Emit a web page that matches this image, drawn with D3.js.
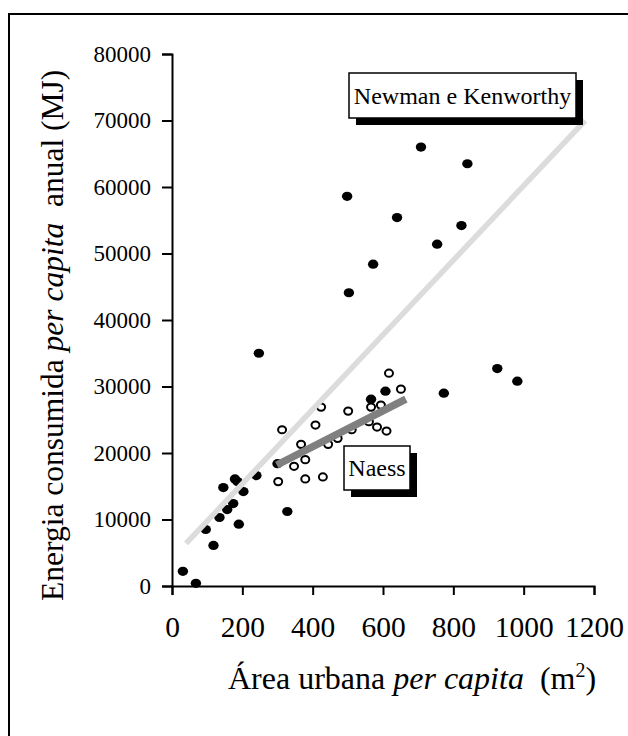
<!DOCTYPE html>
<html>
<head>
<meta charset="utf-8">
<script src="https://cdn.jsdelivr.net/npm/d3@7/dist/d3.min.js"></script>
<style>
  html, body { margin: 0; padding: 0; background: #fff; }
  svg { display: block; }
  text { font-family: "Liberation Serif", "Times New Roman", serif; fill: #000; }
</style>
</head>
<body>
<svg id="chart" width="628" height="736"></svg>
<script>
// Newman & Kenworthy cities: urban area per capita (m²), annual energy per capita (MJ)
const nkArea   = [708, 840, 498, 640, 823, 754, 572, 503, 247, 925, 982, 773, 607, 566,
                  240, 179, 186, 146, 203, 174, 157, 135, 190, 96, 328, 118, 31, 68, 300];
const nkEnergy = [66000, 63500, 58600, 55400, 54200, 51400, 48400, 44100, 35000, 32700, 30800, 29000, 29300, 28100,
                  16600, 16100, 15700, 14800, 14200, 12400, 11500, 10300, 9300, 8500, 11200, 6100, 2200, 400, 18400];

// Naess cities
const naArea   = [617, 651, 594, 566, 501, 424, 408, 313, 560, 583, 610, 511, 471, 444, 367, 379, 347, 302, 379, 429];
const naEnergy = [32000, 29600, 27200, 26900, 26300, 26900, 24200, 23500, 24700, 23900, 23300, 23500, 22200, 21300,
                  21300, 19000, 18000, 15700, 16100, 16400];

// Trend lines (end points)
const nkTrendArea = [40, 1175];
const nkTrendEnergy = [6400, 70000];
const naTrendArea = [298, 665];
const naTrendEnergy = [18200, 28100];

const xTicks = [0, 200, 400, 600, 800, 1000, 1200];
const yTicks = [0, 10000, 20000, 30000, 40000, 50000, 60000, 70000, 80000];

const svg = d3.select("#chart");

// outer frame
svg.append("rect")
  .attr("x", 9).attr("y", 14).attr("width", 640).attr("height", 740)
  .attr("fill", "none").attr("stroke", "#000").attr("stroke-width", 2);

const x = d3.scaleLinear().domain([0, 1200]).range([172, 594]);
const y = d3.scaleLinear().domain([0, 80000]).range([586, 54]);

// points
const nk = nkArea.map((a, i) => ({ a, e: nkEnergy[i] }));
const na = naArea.map((a, i) => ({ a, e: naEnergy[i] }));

svg.append("g").selectAll("ellipse").data(na).join("ellipse")
  .attr("cx", d => x(d.a)).attr("cy", d => y(d.e))
  .attr("rx", 4).attr("ry", 3.6)
  .attr("fill", "#fff").attr("stroke", "#000").attr("stroke-width", 2);

svg.append("g").selectAll("ellipse").data(nk).join("ellipse")
  .attr("cx", d => x(d.a)).attr("cy", d => y(d.e))
  .attr("rx", 5.2).attr("ry", 4.6)
  .attr("fill", "#000");

// trend lines
const line = d3.line().x(d => x(d[0])).y(d => y(d[1]));
svg.append("path")
  .datum(nkTrendArea.map((a, i) => [a, nkTrendEnergy[i]]))
  .attr("d", line).attr("fill", "none")
  .attr("stroke", "#dcdcdc").attr("stroke-width", 5.5);
svg.append("path")
  .datum(naTrendArea.map((a, i) => [a, naTrendEnergy[i]]))
  .attr("d", line).attr("fill", "none")
  .attr("stroke", "#808080").attr("stroke-width", 7.5);

// axes
const yAxis = svg.append("g").attr("transform", "translate(172,0)")
  .call(d3.axisLeft(y).tickValues(yTicks).tickSize(10).tickPadding(11).tickFormat(d3.format("d")));
const xAxis = svg.append("g").attr("transform", "translate(0,586)")
  .call(d3.axisBottom(x).tickValues(xTicks).tickSize(9).tickPadding(21).tickFormat(d3.format("d")));
[yAxis, xAxis].forEach(g => {
  g.attr("font-family", null);
  g.select(".domain").attr("stroke", "#000").attr("stroke-width", 2);
  g.selectAll(".tick line").attr("stroke", "#000").attr("stroke-width", 2);
  g.selectAll("text").attr("fill", "#000");
});
yAxis.selectAll("text").attr("font-size", 23);
xAxis.selectAll("text").attr("font-size", 29.5);

// axis titles
const xt = svg.append("text").attr("x", 228).attr("y", 689).attr("font-size", 32);
xt.append("tspan").text("Área urbana ");
xt.append("tspan").attr("font-style", "italic").text("per capita");
xt.append("tspan").text("\u00a0 (m");
xt.append("tspan").attr("font-size", 20).attr("dy", -12).text("2");
xt.append("tspan").attr("dy", 12).text(")");

const yt = svg.append("text").attr("transform", "translate(63,601) rotate(-90)").attr("font-size", 31.5);
yt.append("tspan").text("Energia consumida ");
yt.append("tspan").attr("font-style", "italic").text("per capita");
yt.append("tspan").text("\u00a0 anual (MJ)");

// annotation boxes with drop shadows
function callout(x0, y0, w, h, label) {
  svg.append("rect").attr("x", x0 + 7).attr("y", y0 + 7).attr("width", w).attr("height", h).attr("fill", "#000");
  svg.append("rect").attr("x", x0).attr("y", y0).attr("width", w).attr("height", h)
    .attr("fill", "#fff").attr("stroke", "#000").attr("stroke-width", 1.5);
  svg.append("text").attr("x", x0 + w / 2).attr("y", y0 + h / 2 + 8)
    .attr("text-anchor", "middle").attr("font-size", 24).text(label);
}
callout(349, 73, 227, 45, "Newman e Kenworthy");
callout(344, 446, 66, 44, "Naess");
</script>
</body>
</html>
